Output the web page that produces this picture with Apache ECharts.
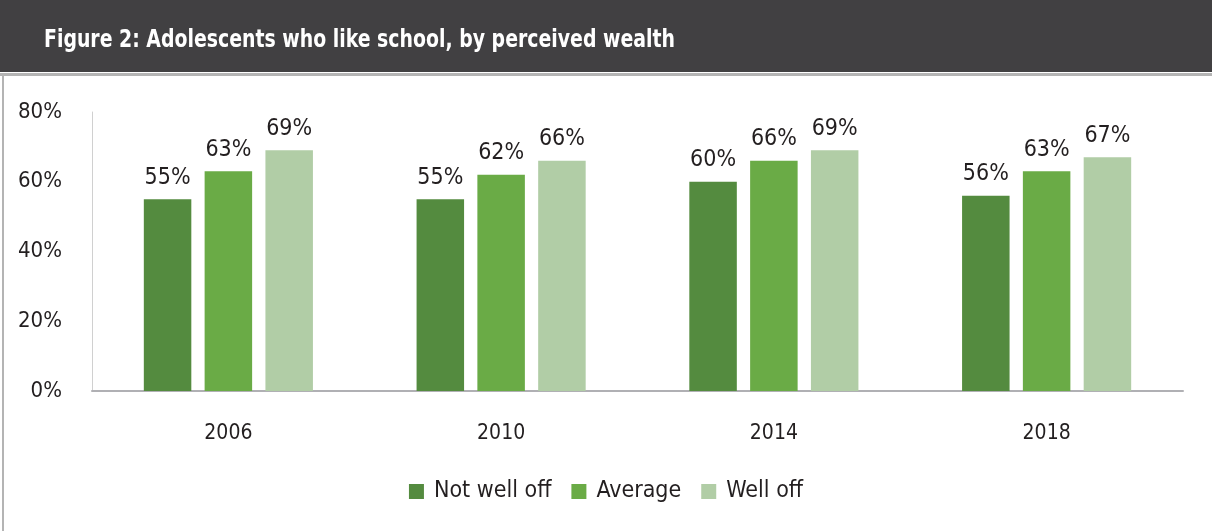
<!DOCTYPE html>
<html><head><meta charset="utf-8">
<script src="https://cdn.jsdelivr.net/npm/echarts@6/dist/echarts.min.js"></script>
<style>html,body{margin:0;padding:0;background:#fff}#c{width:1212px;height:531px}</style>
</head><body><div id="c"></div>
<script>
const categories = ['2006', '2010', '2014', '2018'];
const seriesNames = ['Not well off', 'Average', 'Well off'];
const notWellOff = [55, 55, 60, 56];
const average = [63, 62, 66, 63];
const wellOff = [69, 66, 69, 67];
const yTicks = [0, 20, 40, 60, 80];
const colors = ['#548b3f', '#6aab46', '#b1cda6'];
const FONT = '"Liberation Sans Narrow", "DejaVu Sans Condensed", sans-serif';

const chart = echarts.init(document.getElementById('c'));
const values = [notWellOff, average, wellOff];
chart.setOption({
  animation: false,
  graphic: [
    {type: 'rect', shape: {x: 0, y: 0, width: 1212, height: 72}, style: {fill: '#414042'}, z: 0},
    {type: 'rect', shape: {x: 0, y: 73, width: 1212, height: 3}, style: {fill: '#b4b4b4'}, z: 0},
    {type: 'rect', shape: {x: 2, y: 76, width: 2, height: 455}, style: {fill: '#b4b4b4'}, z: 0},
    {type: 'text', x: 44, y: 28, scaleX: 0.84, style: {text: 'Figure 2: Adolescents who like school, by perceived wealth', fill: '#ffffff', font: 'bold 25px ' + FONT}, z: 5}
  ],
  legend: {
    bottom: 23, left: 'center', itemWidth: 15, itemHeight: 15, itemGap: 20,
    icon: 'rect',
    textStyle: {fontFamily: FONT, fontSize: 23, color: '#231f20', padding: [0, 0, 0, 5]},
    data: seriesNames
  },
  grid: {left: 92, right: 29, top: 112, bottom: 140},
  xAxis: {
    type: 'category', data: categories,
    axisLine: {lineStyle: {color: '#b0b0b4', width: 2}},
    axisTick: {show: false},
    axisLabel: {fontFamily: FONT, fontSize: 21, color: '#231f20', margin: 32}
  },
  yAxis: {
    type: 'value', min: 0, max: 80, interval: 20,
    axisLine: {show: true, lineStyle: {color: '#d0d0d0', width: 1}},
    axisTick: {show: false},
    splitLine: {show: false},
    axisLabel: {fontFamily: FONT, fontSize: 22, color: '#231f20', margin: 30,
      formatter: v => yTicks.includes(v) ? v + '%' : ''}
  },
  series: seriesNames.map((n, i) => ({
    name: n, type: 'bar', data: values[i],
    barGap: '28%', barCategoryGap: '38%',
    itemStyle: {color: colors[i]},
    label: {show: true, position: 'top', distance: 10, formatter: '{c}%',
      fontFamily: FONT, fontSize: 23, color: '#231f20'}
  }))
});
</script></body></html>
